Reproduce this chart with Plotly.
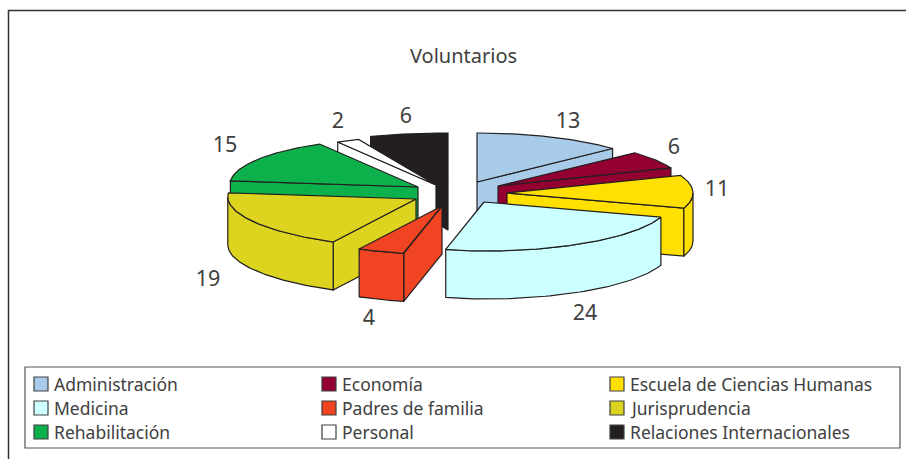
import numpy as np
import plotly.graph_objects as go

# ---- data ----
categories = ["Administración", "Economía", "Escuela de Ciencias Humanas",
              "Medicina", "Padres de familia", "Jurisprudencia",
              "Rehabilitación", "Personal", "Relaciones Internacionales"]
values = [13, 6, 11, 24, 4, 19, 15, 2, 6]
title_text = "Voluntarios"

# ---- style / layout ----
colors = ["#a8cbea", "#930031", "#ffe000", "#ccffff", "#f04423",
          "#dcd41f", "#0db14b", "#ffffff", "#231f20"]
EDGE = "#231f20"
TEXT = "#404040"
FONT = "Noto Sans"
W, H = 906, 459
RX_R, RX_L, RY, DEPTH, SHEAR = 186, 188, 49, 48, 0.18
CX, CY = 447, 194
# explode offset of each slice's apex from the pie centre
explode = [(30, -12), (51, -8), (60, -1), (37, 8), (-5, 12),
           (-31, 5), (-29, -7), (-11, -9), (1, -12)]
# back-to-front painting order
paint_order = [8, 7, 0, 1, 2, 6, 5, 4, 3]
label_pos = [(568, 122.5), (674, 148.5), (717, 190.5), (585, 314.5), (369, 319.5),
             (208, 280.5), (225, 146.5), (338, 122.5), (406, 117.5)]
leg_cols = [34, 322, 610]
leg_rows = [384, 408, 432]
SW = 14

fig = go.Figure()
T_R, T_L = 90.0, 272.4  # silhouette angles of the pie's outer wall


def pt(theta, ax, ay):
    t = np.radians(theta)
    s, c = np.sin(t), np.cos(t)
    ey = -RY * c
    ex = np.where(s >= 0, RX_R * s, RX_L * s + SHEAR * ey * np.minimum(1, -4 * s))
    return ax + ex, ay + ey


def poly(xs, ys, color):
    fig.add_trace(go.Scatter(x=list(xs) + [xs[0]], y=list(ys) + [ys[0]], mode="lines",
                             fill="toself", fillcolor=color,
                             line=dict(color=EDGE, width=1.2), hoverinfo="skip",
                             showlegend=False))


total = sum(values)
bounds = np.concatenate([[0], np.cumsum(values)]) / total * 360
for i in paint_order:
    a0, a1 = bounds[i], bounds[i + 1]
    ax, ay = CX + explode[i][0], CY + explode[i][1]
    col = colors[i]
    # visible cut faces
    for th, vis in ((a0, np.sin(np.radians(a0)) < -1e-6), (a1, np.sin(np.radians(a1)) > 1e-6)):
        if vis:
            px, py = pt(th, ax, ay)
            px, py = float(px), float(py)
            poly([ax, px, px, ax], [ay, py, py + DEPTH, ay + DEPTH], col)
    # outer wall
    w0, w1 = max(a0, T_R), min(a1, T_L)
    if w1 > w0:
        th = np.linspace(w0, w1, 60)
        px, py = pt(th, ax, ay)
        poly(np.r_[px, px[::-1]], np.r_[py, py[::-1] + DEPTH], col)
    # top face
    th = np.linspace(a0, a1, 80)
    px, py = pt(th, ax, ay)
    poly(np.r_[ax, px], np.r_[ay, py], col)

# value labels
fig.add_trace(go.Scatter(x=[p[0] for p in label_pos], y=[p[1] for p in label_pos],
                         mode="text", text=[str(v) for v in values],
                         textfont=dict(family=FONT, size=21.5, color=TEXT),
                         hoverinfo="skip", showlegend=False))
# legend
for k, (name, col) in enumerate(zip(categories, colors)):
    c, r = k % 3, k // 3
    fig.add_trace(go.Scatter(x=[leg_cols[c] + SW / 2], y=[leg_rows[r]], mode="markers",
                             marker=dict(symbol="square", size=SW, color=col,
                                         line=dict(color="#404040", width=1.2)),
                             hoverinfo="skip", showlegend=False))
    fig.add_annotation(x=leg_cols[c] + SW + 4, y=leg_rows[r], text=name, showarrow=False,
                       xanchor="left", yanchor="middle", xref="x", yref="y",
                       font=dict(family=FONT, size=17.5, color=TEXT))

fig.update_layout(
    width=W, height=H, margin=dict(l=0, r=0, t=0, b=0),
    paper_bgcolor="white", plot_bgcolor="white", showlegend=False,
    xaxis=dict(range=[0, W], visible=False, fixedrange=True),
    yaxis=dict(range=[H, 0], visible=False, fixedrange=True),
    shapes=[
        dict(type="rect", xref="x", yref="y", x0=25, y0=367, x1=900, y1=448,
             line=dict(color="#555555", width=1.2), layer="below"),
        dict(type="path", xref="x", yref="y", path="M 8.5 459 L 8.5 10.5 L 906 10.5",
             line=dict(color="#333333", width=1.5), layer="below"),
    ],
    annotations=list(fig.layout.annotations) + [
        dict(x=463.5, y=55, text=title_text, showarrow=False, xref="x", yref="y",
             font=dict(family=FONT, size=20, color=TEXT))],
)
fig.write_html("out.html", config=dict(displayModeBar=False),
               post_script="document.body.style.margin='0';document.body.style.overflow='hidden';")
